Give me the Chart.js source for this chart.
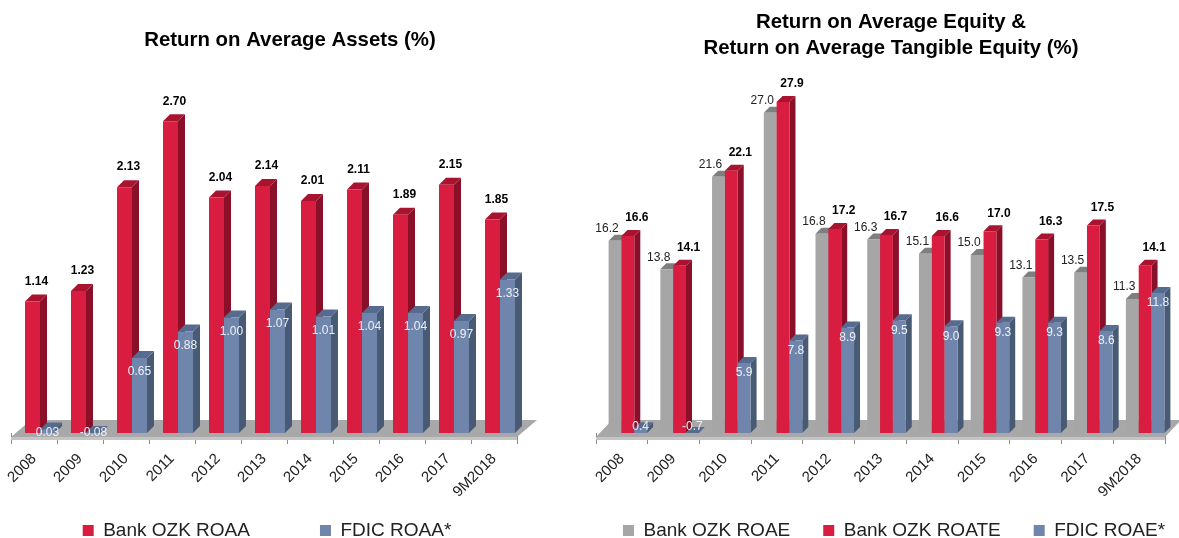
<!DOCTYPE html>
<html><head><meta charset="utf-8">
<style>
html,body{margin:0;padding:0;background:#fff;overflow:hidden;width:1179px;height:538px}
.c{position:absolute;top:0;height:538px}
</style>
<script src="https://cdn.jsdelivr.net/npm/chart.js@4/dist/chart.umd.js"></script>
</head><body>
<div class="c" style="left:0;width:580px"><canvas id="a"></canvas></div>
<div class="c" style="left:581px;width:620px"><canvas id="b"></canvas></div>
<script>
const categories = ['2008','2009','2010','2011','2012','2013','2014','2015','2016','2017','9M2018'];
const bankRoaa = [1.14,1.23,2.13,2.70,2.04,2.14,2.01,2.11,1.89,2.15,1.85];
const fdicRoaa = [0.03,-0.08,0.65,0.88,1.00,1.07,1.01,1.04,1.04,0.97,1.33];
const bankRoae = [16.2,13.8,21.6,27.0,16.8,16.3,15.1,15.0,13.1,13.5,11.3];
const bankRoate = [16.6,14.1,22.1,27.9,17.2,16.7,16.6,17.0,16.3,17.5,14.1];
const fdicRoae = [0.4,-0.7,5.9,7.8,8.9,9.5,9.0,9.3,9.3,8.6,11.8];

const RED={front:'#D81D40',side:'#8A1029',top:'#A8142F'};
const BLUE={front:'#7085AC',side:'#485A74',top:'#566B8E'};
const GRAY={front:'#A6A6A6',side:'#808080',top:'#7F7F7F'};
const FONT='"Liberation Sans", Arial, sans-serif';
const BASE_Y=433;

const threeD={
  id:'threeD',
  beforeDatasetDraw(){return false;},
  beforeDatasetsDraw(chart,args,o){
    const c=chart.ctx,a=chart.chartArea;
    c.save();
    c.fillStyle='#A8A8A8';
    c.beginPath();
    c.moveTo(a.left,a.bottom+4);
    c.lineTo(a.left+o.floor,a.bottom-13);
    c.lineTo(a.right+o.floor,a.bottom-13);
    c.lineTo(a.right,a.bottom+4);
    c.closePath();c.fill();
    c.fillStyle='#C4C4C4';
    c.fillRect(a.left,a.bottom+4,a.right-a.left,3);
    c.restore();
  },
  afterDatasetsDraw(chart,args,o){
    const c=chart.ctx,a=chart.chartArea,d=o.depth;
    c.save();
    c.translate(o.shift,0);
    chart.data.datasets.forEach((ds,i)=>{
      const meta=chart.getDatasetMeta(i);
      meta.data.forEach(el=>{
        const base=el.base,top=Math.min(el.y,base),x0=el.x-el.width/2,x1=el.x+el.width/2;
        c.fillStyle=ds.faces.side;
        c.beginPath();c.moveTo(x1,top);c.lineTo(x1+d,top-d);c.lineTo(x1+d,base-d);c.lineTo(x1,base);c.closePath();c.fill();
        c.fillStyle=ds.faces.top;
        c.beginPath();c.moveTo(x0,top);c.lineTo(x0+d,top-d);c.lineTo(x1+d,top-d);c.lineTo(x1,top);c.closePath();c.fill();
        c.save();
        c.beginPath();c.rect(a.left-20,a.top,a.right-a.left+60,a.bottom-a.top);c.clip();
        el.draw(c);
        c.restore();
      });
    });
    chart.data.datasets.forEach((ds,i)=>{
      const meta=chart.getDatasetMeta(i),l=ds.lab;
      c.font=(l.bold?'bold ':'')+'12px '+FONT;
      c.fillStyle=l.color;c.textAlign='center';c.textBaseline='middle';
      meta.data.forEach((el,j)=>{
        const top=Math.min(el.y,el.base);
        const y=l.cap?Math.min(top+l.dy,l.cap):top+l.dy;
        c.fillText(ds.data[j].toFixed(l.dec),el.x+l.dx,y);
      });
    });
    c.restore();
  },
  afterLayout(chart,args,o){
    chart.legend.left+=o.legendDx;chart.legend.right+=o.legendDx;
    chart.scales.x.bottom=chart.height;
  }
};

function make(id,w,sets,ymax,title,titlePad,pad,cat,o,legPad){
  const cv=document.getElementById(id);cv.width=w;cv.height=538;
  const spacer=width=>({display:true,afterFit(s){s.width=width;},border:{display:false},grid:{display:false},ticks:{display:false}});
  return new Chart(cv,{
    type:'bar',
    data:{labels:categories,datasets:sets},
    plugins:[threeD],
    options:{
      responsive:false,animation:false,devicePixelRatio:1,
      layout:{padding:{bottom:pad.bottom}},
      categoryPercentage:cat,barPercentage:1,
      plugins:{
        tooltip:{enabled:false},
        threeD:o,
        title:{display:true,text:title,color:'#000',padding:titlePad,font:{family:FONT,size:20.4,weight:'bold',lineHeight:1.28}},
        legend:{position:'bottom',labels:{boxWidth:11,boxHeight:11,padding:legPad,color:'#222',font:{family:FONT,size:19}}}
      },
      scales:{
        y:Object.assign(spacer(pad.left),{min:0,max:ymax}),
        r:Object.assign(spacer(pad.right),{position:'right',min:0,max:ymax}),
        x:{
          afterFit(s){s.height=538-pad.bottom-s.chart.legend.height-BASE_Y;},
          border:{display:false},
          grid:{drawOnChartArea:false,drawTicks:true,tickLength:11,color:'#8C8C8C'},
          ticks:{autoSkip:false,minRotation:45,maxRotation:45,padding:6,color:'#222',font:{family:FONT,size:15}}
        }
      }
    }
  });
}
const L=(c,b,dx,dy,dec,cap)=>({color:c,bold:b,dx,dy,dec,cap});
make('a',580,[
 {label:'Bank OZK ROAA',data:bankRoaa,backgroundColor:RED.front,borderWidth:0,faces:RED,lab:L('#000',true,4,-20,2)},
 {label:'FDIC ROAA*',data:fdicRoaa,backgroundColor:BLUE.front,borderWidth:0,faces:BLUE,lab:L('#EDF1F7',false,0,14,2,433)}
],3.3,'Return on Average Assets (%)',{top:27,bottom:-1},{left:11,right:63,bottom:-12},30/46,{depth:7,shift:6,floor:20,legendDx:-23},70);
make('b',620,[
 {label:'Bank OZK ROAE',data:bankRoae,backgroundColor:GRAY.front,borderWidth:0,faces:GRAY,lab:L('#222',false,-8,-12,1)},
 {label:'Bank OZK ROATE',data:bankRoate,backgroundColor:RED.front,borderWidth:0,faces:RED,lab:L('#000',true,9,-18,1)},
 {label:'FDIC ROAE*',data:fdicRoae,backgroundColor:BLUE.front,borderWidth:0,faces:BLUE,lab:L('#EDF1F7',false,0,10,1,427)}
],31,['Return on Average Equity &','Return on Average Tangible Equity (%)'],{top:9,bottom:4},{left:15,right:36,bottom:-12},38.5/51.7,{depth:6,shift:6,floor:16,legendDx:3},33);
</script>
</body></html>
